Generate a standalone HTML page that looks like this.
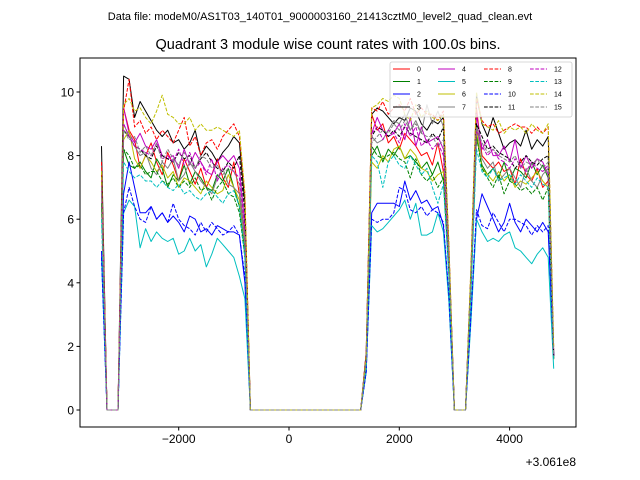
<!DOCTYPE html>
<html><head><meta charset="utf-8"><style>
body{margin:0;background:#fff}
svg{display:block;font-family:"Liberation Sans","DejaVu Sans",sans-serif}
</style></head><body>
<svg id="chart" width="640" height="480" viewBox="0 0 640 480">
<rect width="640" height="480" fill="#fff"/>
<text x="320" y="20" font-size="11" text-anchor="middle">Data file: modeM0/AS1T03_140T01_9000003160_21413cztM0_level2_quad_clean.evt</text>
<text x="328" y="49" font-size="14.5" text-anchor="middle">Quadrant 3 module wise count rates with 100.0s bins.</text>
<g id="plot"></g>
</svg>
<script>
const tStart=-3400, tStep=100;
const segA=[], segB=[], segC=[];
const s0A=[7.5,0,0,0,9.5,8.8,8.5,7.6,8.0,8.4,7.8,7.4,8.1,7.7,7.2,7.9,7.5,7.1,7.6,7.0,7.4,7.9,7.3,7.0,7.8,6.8,5.5];
const s0B=[1.5,9.3,8.8,9.0,8.4,8.6,8.2,8.7,8.5,8.3,8.0,8.1,7.7,8.4,7.5,4.6];
const s0C=[4.2,9.5,8.0,7.8,7.6,7.8,7.5,7.6,7.1,7.9,7.4,7.2,7.6,7.0,7.2,1.6];
const s1A=[6.5,0,0,0,8.2,7.7,7.6,7.8,7.5,7.3,7.9,7.6,7.0,7.4,7.2,7.7,7.1,7.5,7.3,7.0,6.9,7.4,7.2,7.6,7.0,6.4,5.0];
const s1B=[1.4,8.0,8.3,7.8,8.2,8.0,8.3,7.9,8.0,7.8,7.6,7.8,7.4,7.8,7.2,4.5];
const s1C=[4.0,8.6,7.7,7.4,7.6,7.3,7.8,7.2,7.6,7.5,7.3,7.8,7.4,7.7,7.3,1.7];
const s2A=[5.0,0,0,0,6.8,7.8,7.0,6.2,6.2,6.4,6.0,6.2,5.9,6.1,5.9,5.6,6.1,6.0,5.6,5.7,5.5,5.8,5.7,5.6,5.6,5.5,4.0];
const s2B=[1.2,6.2,6.5,6.5,6.5,6.5,6.4,7.2,6.6,6.9,6.5,6.6,6.3,6.4,5.8,3.5];
const s2C=[3.0,6.0,6.8,6.4,6.0,5.6,5.9,6.5,5.9,5.6,6.0,5.8,5.6,5.9,5.6,1.7];
const s3A=[8.3,0,0,0,10.5,10.4,9.2,9.7,9.4,9.1,8.8,8.6,8.8,8.4,8.5,8.2,8.4,8.8,8.0,8.3,8.1,7.8,8.1,8.3,8.6,8.4,6.5];
const s3B=[1.8,9.3,9.5,9.4,9.2,9.0,9.2,9.1,9.5,9.4,9.0,8.8,9.1,9.0,9.2,5.0];
const s3C=[4.4,9.9,9.0,8.6,9.2,8.7,8.2,8.4,8.5,8.3,8.8,8.2,8.5,8.3,8.6,1.8];
const s4A=[7.0,0,0,0,9.5,8.7,8.4,8.7,8.3,8.2,8.5,8.0,7.9,8.0,7.6,8.2,7.7,8.1,7.8,7.5,7.4,7.8,8.0,7.8,8.0,7.6,5.8];
const s4B=[1.6,8.7,9.2,8.8,8.6,8.7,9.0,8.5,9.2,8.3,8.9,8.4,8.5,8.6,8.2,4.8];
const s4C=[4.2,9.3,8.2,8.5,8.0,8.0,8.3,7.8,8.5,7.6,8.0,7.6,7.9,7.8,7.4,1.7];
const s5A=[4.8,0,0,0,6.2,6.6,6.4,5.1,5.7,5.3,5.6,5.4,5.3,5.4,4.9,5.0,5.4,5.0,5.2,4.5,4.9,5.4,5.2,5.0,4.8,4.2,3.5];
const s5B=[1.2,5.8,5.6,5.7,5.9,6.1,6.3,6.6,6.0,6.5,5.5,5.5,5.6,6.2,5.6,3.4];
const s5C=[2.8,6.0,5.6,5.3,5.4,5.3,5.5,5.6,5.1,5.0,4.8,4.6,4.9,5.1,4.8,1.3];
const s6A=[7.2,0,0,0,8.5,8.8,7.9,7.6,8.0,7.8,7.5,7.7,7.3,7.5,7.0,7.3,7.2,7.0,6.8,7.2,7.0,6.8,6.9,7.4,7.0,6.6,5.2];
const s6B=[1.4,7.8,7.6,8.0,7.8,8.2,8.3,7.9,8.2,8.0,7.6,7.5,7.2,7.4,7.5,4.3];
const s6C=[3.9,8.8,7.6,7.4,7.2,7.5,7.2,7.4,7.0,7.2,7.1,7.3,7.5,7.2,7.0,1.6];
const s7A=[6.8,0,0,0,9.0,8.6,8.3,8.0,8.1,7.6,7.4,7.8,7.6,7.9,7.2,7.4,7.8,7.5,7.2,7.0,6.8,7.3,7.6,7.1,7.0,6.8,5.2];
const s7B=[1.5,8.6,8.4,8.5,8.8,9.1,9.0,9.3,8.8,9.1,8.7,9.6,9.0,9.4,8.9,5.0];
const s7C=[4.1,9.0,7.9,7.6,7.8,7.2,7.4,7.6,7.3,7.0,7.6,7.2,7.0,7.4,7.6,1.6];
const s8A=[7.8,0,0,0,9.4,10.4,8.9,9.1,8.7,8.9,8.5,8.8,8.6,8.4,8.8,9.2,8.3,8.6,8.0,8.4,8.5,8.2,8.6,8.8,9.0,8.6,6.8];
const s8B=[1.8,9.5,9.4,9.7,9.3,9.5,9.6,9.4,9.8,9.3,9.5,9.3,9.3,9.1,9.4,5.2];
const s8C=[4.5,9.8,9.1,8.9,9.0,8.7,8.8,8.9,9.0,8.9,8.9,8.7,8.9,8.7,8.9,1.9];
const s9A=[6.5,0,0,0,8.2,8.0,7.6,7.7,7.4,7.5,7.5,7.2,7.1,7.3,7.0,7.2,7.0,7.3,6.9,7.0,6.6,7.0,7.2,6.8,6.7,6.2,4.8];
const s9B=[1.4,8.3,8.0,7.9,8.0,8.1,7.9,7.8,7.3,7.9,7.4,7.2,7.4,7.0,7.3,4.3];
const s9C=[3.8,8.6,7.6,7.3,7.0,7.4,6.8,7.2,7.1,6.9,7.0,6.8,7.0,6.6,7.0,1.6];
const s10A=[4.8,0,0,0,6.2,7.0,6.4,6.0,5.9,6.4,6.0,6.2,5.9,6.5,6.0,5.8,5.7,5.5,5.9,5.6,5.9,5.7,5.5,5.6,5.8,5.5,4.2];
const s10B=[1.2,6.0,5.9,6.0,6.0,6.2,7.0,6.9,6.3,6.2,6.4,6.1,6.3,6.2,5.9,3.6];
const s10C=[3.0,6.3,5.8,5.7,6.2,5.9,5.6,6.0,6.0,5.9,5.8,5.5,5.8,5.6,5.8,1.7];
const s11A=[7.5,0,0,0,8.8,8.6,8.3,8.2,8.0,7.9,8.3,8.0,7.9,7.8,8.1,7.9,8.0,7.6,7.9,8.1,7.8,7.6,7.5,7.8,7.6,8.0,6.2];
const s11B=[1.6,8.6,8.9,8.8,8.6,8.8,8.6,8.9,8.7,8.6,8.5,8.4,8.7,8.5,8.9,4.9];
const s11C=[4.3,9.0,8.6,8.2,8.3,8.1,8.0,7.9,7.6,7.8,8.0,7.8,7.7,7.9,8.0,1.7];
const s12A=[7.3,0,0,0,9.0,8.6,8.3,8.2,8.1,8.0,8.4,7.9,8.0,7.8,8.2,7.7,8.1,7.6,7.8,7.4,7.9,7.2,7.6,7.7,7.5,7.3,5.5];
const s12B=[1.6,8.7,8.9,8.5,8.8,8.7,8.4,9.0,8.6,8.9,8.3,8.5,8.2,8.4,8.0,4.6];
const s12C=[4.1,8.8,8.3,8.0,8.2,7.9,7.8,7.6,7.9,7.7,7.5,7.8,7.6,7.5,7.7,1.7];
const s13A=[6.0,0,0,0,7.8,7.5,7.3,7.4,7.2,7.2,7.0,7.2,7.0,6.9,7.1,6.8,6.9,6.7,6.6,6.8,6.9,6.7,6.5,6.8,6.9,6.4,4.8];
const s13B=[1.4,8.0,7.8,7.0,7.8,8.0,7.7,7.6,8.0,7.7,7.4,7.6,7.0,6.5,7.1,4.2];
const s13C=[3.7,8.2,7.5,7.3,7.6,7.2,7.3,7.4,7.1,7.4,7.2,7.0,7.3,7.1,7.0,1.6];
const s14A=[7.5,0,0,0,9.6,9.8,9.4,9.5,9.2,9.0,9.4,9.9,9.3,9.2,9.0,9.0,9.2,8.8,9.0,8.8,8.8,8.9,8.8,8.7,8.6,8.8,6.8];
const s14B=[1.7,9.5,9.6,9.8,9.7,9.9,9.8,9.3,9.1,9.6,9.2,9.4,9.2,9.1,9.3,5.2];
const s14C=[4.6,10.0,9.0,8.9,8.8,9.1,8.7,8.9,8.8,8.9,8.7,9.0,8.8,8.7,9.0,2.0];
const s15A=[7.0,0,0,0,8.8,8.5,8.6,8.1,8.3,8.0,8.4,7.8,8.2,7.9,7.7,8.1,7.8,7.6,8.0,7.9,7.6,7.7,7.4,7.6,7.5,7.1,5.4];
const s15B=[1.6,8.4,8.6,8.8,8.7,9.0,8.8,9.1,8.8,9.0,8.7,8.6,8.6,8.3,8.5,4.8];
const s15C=[4.2,8.9,8.4,8.1,8.2,8.0,7.9,7.8,8.0,7.6,7.8,7.7,7.9,7.6,7.8,1.7];
const gap1=new Array(21).fill(0); // -700..1300
const gap2=new Array(3).fill(0);  // 3000..3200
const xTicks=[-2000,0,2000,4000];
const xTickLabels=["\u22122000","0","2000","4000"];
const yTicks=[0,2,4,6,8,10];
const seriesNames=["0","1","2","3","4","5","6","7","8","9","10","11","12","13","14","15"];
const seriesColors=["#ff0000","#008000","#0000ff","#000000","#bf00bf","#00bfbf","#bfbf00","#808080","#ff0000","#008000","#0000ff","#000000","#bf00bf","#00bfbf","#bfbf00","#808080"];
const A=[s0A,s1A,s2A,s3A,s4A,s5A,s6A,s7A,s8A,s9A,s10A,s11A,s12A,s13A,s14A,s15A];
const B=[s0B,s1B,s2B,s3B,s4B,s5B,s6B,s7B,s8B,s9B,s10B,s11B,s12B,s13B,s14B,s15B];
const C=[s0C,s1C,s2C,s3C,s4C,s5C,s6C,s7C,s8C,s9C,s10C,s11C,s12C,s13C,s14C,s15C];

const NS="http://www.w3.org/2000/svg";
const L=80,R=576,T=58,Bt=427;
const xs=t=>289+t*0.05515;
const ys=v=>410-v*31.8;
const g=document.getElementById('plot');
function mk(tag,attrs,parent){const e=document.createElementNS(NS,tag);for(const k in attrs)e.setAttribute(k,attrs[k]);(parent||g).appendChild(e);return e;}
const clip=mk('clipPath',{id:'clp'});mk('rect',{x:L,y:T,width:R-L,height:Bt-T},clip);
const lines=mk('g',{'clip-path':'url(#clp)'});


for(let i=0;i<16;i++){
  const vals=A[i].concat(gap1,B[i],gap2,C[i]);
  const pts=vals.map((v,j)=>xs(tStart+j*tStep).toFixed(1)+','+ys(v).toFixed(1)).join(' ');
  const p=mk('polyline',{points:pts,fill:'none',stroke:seriesColors[i],'stroke-width':1,'stroke-linejoin':'round'},lines);
  if(i>=8)p.setAttribute('stroke-dasharray','3.7,1.6');
  
  
}
const frame=mk('rect',{x:L,y:T,width:R-L,height:Bt-T,fill:'none',stroke:'#000','stroke-width':1});


xTicks.forEach((t,i)=>{
  const x=xs(t);
  mk('line',{x1:x,x2:x,y1:Bt,y2:Bt+3.5,stroke:'#000'});
  const tx=mk('text',{x:x,y:Bt+16,'font-size':12,'text-anchor':'middle'});tx.textContent=xTickLabels[i];
  
  
});
yTicks.forEach(v=>{
  const y=ys(v);
  mk('line',{x1:L-3.5,x2:L,y1:y,y2:y,stroke:'#000'});
  const tx=mk('text',{x:L-6,y:y+4.5,'font-size':12,'text-anchor':'end'});tx.textContent=v;
  
  
});
const off=mk('text',{x:576,y:466,'font-size':12,'text-anchor':'end'});off.textContent='+3.061e8';


// legend
const lg=mk('g',{});


mk('rect',{x:390,y:62,width:182,height:55,rx:2,fill:'#fff','fill-opacity':0.8,stroke:'#ccc','stroke-width':0.8},lg);
const colX=[393,438,484,530], rowY=[69,81.5,94,107];
for(let i=0;i<16;i++){
  const c=Math.floor(i/4), r=i%4;
  const e=mk('g',{},lg);
  
  
  const ln=mk('line',{x1:colX[c],x2:colX[c]+17,y1:rowY[r],y2:rowY[r],stroke:seriesColors[i],'stroke-width':1},e);
  if(i>=8)ln.setAttribute('stroke-dasharray','3.7,1.6');
  const tx=mk('text',{x:colX[c]+24,y:rowY[r]+2.5,'font-size':7},e);tx.textContent=seriesNames[i];
}
</script>
</body></html>
